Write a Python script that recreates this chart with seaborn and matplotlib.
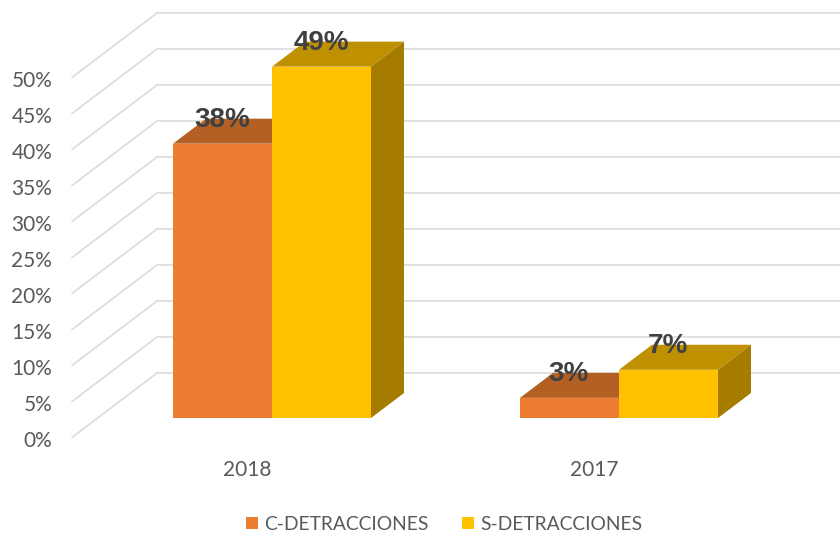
import numpy as np
import pandas as pd
import matplotlib
matplotlib.use("Agg")
import matplotlib.pyplot as plt
from matplotlib.patches import Polygon
from matplotlib.transforms import ScaledTranslation
import seaborn as sns

# ---- data ----
years = ["2018", "2017"]
c_detracciones = [38.1, 2.8]
s_detracciones = [48.8, 6.7]
series_names = ["C-DETRACCIONES", "S-DETRACCIONES"]
tick_values = [0, 5, 10, 15, 20, 25, 30, 35, 40, 45, 50]

# ---- styling ----
W, H = 840, 533
PX_X = 347.0      # pixels per category
PX_Y = 7.2        # pixels per percentage point
AX_L, AX_B = 98.5, H - 418
FRONT = "#ED7D31", "#FFC000"
TOP = "#B45F23", "#BF9000"
SIDE = "#8E4B1D", "#A67C00"
TEXT = "#595959"
LABEL = "#404040"
GRID = "#DEDEDE"

sns.set_theme(style="white")
plt.rcParams["font.family"] = ["Lato", "DejaVu Sans"]

df = pd.DataFrame({
    "year": years * 2,
    "pct": c_detracciones + s_detracciones,
    "serie": [series_names[0]] * len(years) + [series_names[1]] * len(years),
})

fig = plt.figure(figsize=(W / 100, H / 100), dpi=100, facecolor="white")
ax = fig.add_axes([AX_L / W, AX_B / H, 2 * PX_X / W, 50 * PX_Y / H])
ax.patch.set_alpha(0)

sns.barplot(data=df, x="year", y="pct", hue="serie", order=years,
            hue_order=series_names, palette=list(FRONT), saturation=1,
            width=198 / PX_X, gap=0, linewidth=0, ax=ax, zorder=3)
ax.set_xlim(-0.5, 1.5)
ax.set_ylim(0, 50)
sns.despine(ax=ax, left=True, bottom=True)
ax.set_xlabel("")
ax.set_ylabel("")

# wall / floor gridlines, in data units
x_tip = -0.5 + (72 - AX_L) / PX_X
x_back = -0.5 + (157 - AX_L) / PX_X
x_right = -0.5 + (840 - AX_L) / PX_X
up_tip, up_back = -19.5 / PX_Y, 45 / PX_Y
for v in tick_values:
    ax.plot([x_tip, x_back, x_right], [v + up_tip, v + up_back, v + up_back],
            color=GRID, lw=1.3, clip_on=False, zorder=1,
            solid_joinstyle="miter")

# 3D faces of every bar
dx, dy = 33 / PX_X, 25 / PX_Y
for i, container in enumerate(ax.containers):
    for bar in container:
        x0, x1, h = bar.get_x(), bar.get_x() + bar.get_width(), bar.get_height()
        ax.add_patch(Polygon([(x0, h), (x1, h), (x1 + dx, h + dy), (x0 + dx, h + dy)],
                             closed=True, fc=TOP[i], ec="none", clip_on=False, zorder=2))
        ax.add_patch(Polygon([(x1, 0), (x1, h), (x1 + dx, h + dy), (x1 + dx, dy)],
                             closed=True, fc=SIDE[i], ec="none", clip_on=False, zorder=2))
        ax.annotate(f"{h:.0f}%", (x0 + (x1 - x0) / 2, h), xytext=(-0.4, 23.7 * 0.72),
                    textcoords="offset points", ha="center", va="center",
                    fontsize=20, fontweight="bold", color=LABEL,
                    family=["Liberation Sans", "DejaVu Sans"], zorder=5,
                    annotation_clip=False)

# axis labels sit on the front of the floor, so they are shifted off the plot plane
ax.set_yticks(tick_values)
ax.set_yticklabels([f"{v}%" for v in tick_values])
ax.tick_params(axis="y", length=0, pad=33.3, labelsize=15, labelcolor=TEXT)
ax.tick_params(axis="x", length=0, pad=30, labelsize=15, labelcolor=TEXT)
shift_y = ScaledTranslation(0, -20.7 / 100, fig.dpi_scale_trans)
shift_x = ScaledTranslation(-25 / 100, 0, fig.dpi_scale_trans)
for lab in ax.get_yticklabels():
    lab.set_transform(lab.get_transform() + shift_y)
for lab in ax.get_xticklabels():
    lab.set_transform(lab.get_transform() + shift_x)

handles, labels = ax.get_legend_handles_labels()
ax.legend(handles, labels, loc="center", bbox_to_anchor=(444 / W, 1 - 524.5 / H),
          bbox_transform=fig.transFigure, ncol=2, frameon=False, fontsize=13.85,
          labelcolor=TEXT, handlelength=0.62, handleheight=0.62,
          handletextpad=0.31, columnspacing=1.77, borderpad=0, borderaxespad=0)

fig.savefig("out.png", dpi=100, facecolor="white")
